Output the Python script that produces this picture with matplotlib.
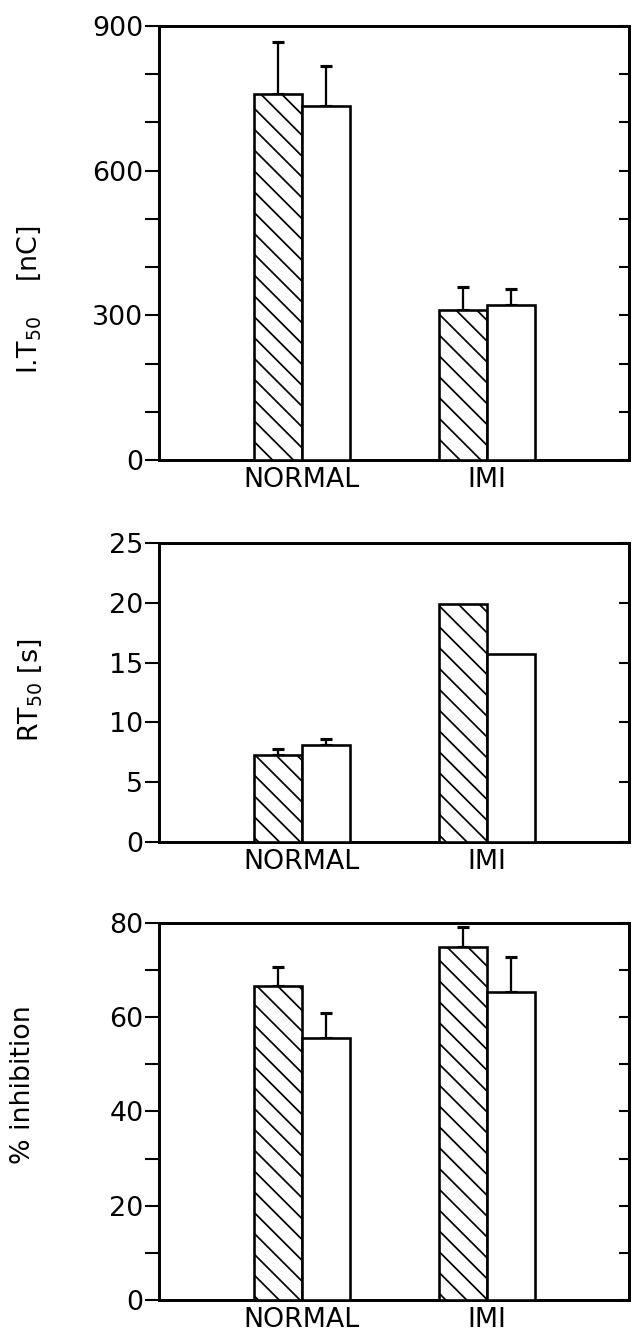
import numpy as np
import matplotlib.pyplot as plt
from matplotlib.ticker import MultipleLocator

groups = ["NORMAL", "IMI"]

# I.T50 [nC]
it50_hatched = [760, 312]
it50_hatched_err = [106, 47]
it50_open = [735, 322]
it50_open_err = [83, 33]

# RT50 [s]
rt50_hatched = [7.3, 19.9]
rt50_hatched_err = [0.5, 0.0]
rt50_open = [8.1, 15.7]
rt50_open_err = [0.5, 0.0]

# % inhibition
inhib_hatched = [66.6, 74.8]
inhib_hatched_err = [4.0, 4.3]
inhib_open = [55.5, 65.4]
inhib_open_err = [5.4, 7.3]

plt.rcParams['font.family'] = ['DejaVu Sans']
plt.rcParams['mathtext.default'] = 'regular'
plt.rcParams['hatch.linewidth'] = 1.0

DPI = 125
fig = plt.figure(figsize=(641 / DPI, 1333 / DPI), dpi=DPI)

x = np.arange(len(groups))
w = 0.26
fs = 15.5


def panel(rect, hatched, herr, openb, oerr, ymax, major, minor, rticks):
    ax = fig.add_axes(rect)
    ax.bar(x - w / 2, hatched, w, facecolor='white', edgecolor='black',
           hatch='\\\\', linewidth=1.5, zorder=3)
    ax.bar(x + w / 2, openb, w, facecolor='white', edgecolor='black',
           linewidth=1.5, zorder=3)
    for xs, vals, err in [(x - w / 2, hatched, herr), (x + w / 2, openb, oerr)]:
        err = np.array(err)
        keep = err > 0
        if keep.any():
            ax.errorbar(xs[keep], np.array(vals)[keep],
                        yerr=[np.zeros(keep.sum()), err[keep]],
                        fmt='none', ecolor='black', elinewidth=1.3,
                        capsize=3.5, capthick=1.8, zorder=2)
    ax.set_xlim(-0.773, 1.768)
    ax.set_ylim(0, ymax)
    ax.set_xticks(x)
    ax.set_xticklabels(groups, fontsize=fs)
    ax.tick_params(axis='x', length=0, pad=4)
    ax.yaxis.set_major_locator(MultipleLocator(major))
    if minor:
        ax.yaxis.set_minor_locator(MultipleLocator(minor))
    ax.tick_params(axis='y', which='both', direction='out', length=8,
                   width=1.2, labelsize=fs, pad=1)
    for s in ax.spines.values():
        s.set_linewidth(1.7)
    ax2 = ax.twinx()
    ax2.set_ylim(0, ymax)
    ax2.yaxis.set_major_locator(MultipleLocator(rticks))
    ax2.tick_params(axis='y', direction='in', length=6, width=1.2,
                    labelright=False)
    for s in ax2.spines.values():
        s.set_visible(False)
    return ax


panel([0.248, 0.6549, 0.733, 0.3256], it50_hatched, it50_hatched_err,
      it50_open, it50_open_err, 900, 300, 100, 100)
panel([0.248, 0.3683, 0.733, 0.2243], rt50_hatched, rt50_hatched_err,
      rt50_open, rt50_open_err, 25, 5, None, 5)
panel([0.248, 0.0248, 0.733, 0.2828], inhib_hatched, inhib_hatched_err,
      inhib_open, inhib_open_err, 80, 20, 10, 10)

fig.text(0.045, 1 - 300 / 1333, 'I.T$_{50}$    [nC]', rotation=90,
         ha='center', va='center', fontsize=fs)
fig.text(0.047, 1 - 690 / 1333, 'RT$_{50}$ [s]', rotation=90,
         ha='center', va='center', fontsize=fs)
fig.text(0.036, 1 - 1085 / 1333, '% inhibition', rotation=90,
         ha='center', va='center', fontsize=fs)

fig.savefig('out.png', dpi=DPI)
